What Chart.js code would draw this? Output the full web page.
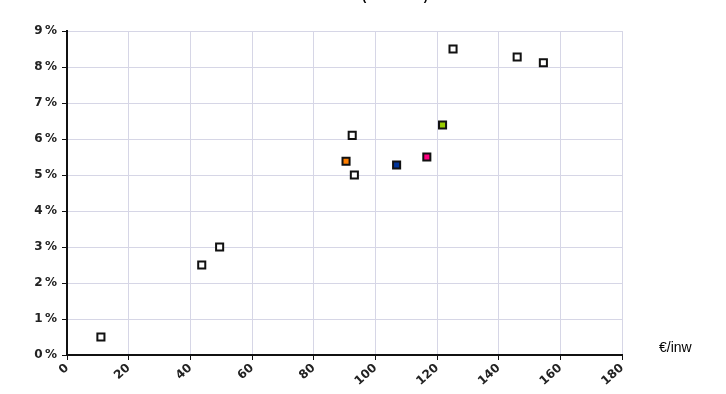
<!DOCTYPE html>
<html>
<head>
<meta charset="utf-8">
<script src="https://cdn.jsdelivr.net/npm/chart.js@4"></script>
<style>
  html, body { margin: 0; padding: 0; background: #fff; }
  #wrap { width: 726px; height: 394px; }
</style>
</head>
<body>
<div id="wrap"><canvas id="chartCanvas" width="726" height="394"></canvas></div>
<script>
// values
var spendPerInhabitant = [11, 43.7, 49.5, 92.5, 93.2, 90.5, 106.9, 116.7, 121.8, 125.2, 146, 154.5];
var sharePercent       = [0.5, 2.5, 3.0, 6.1, 5.0, 5.38, 5.28, 5.5, 6.39, 8.5, 8.28, 8.12];
var pointColors = ["#ffffff", "#ffffff", "#ffffff", "#ffffff", "#ffffff",
                   "#ff7f00", "#003399", "#ff0080", "#99cc00",
                   "#ffffff", "#ffffff", "#ffffff"];
var titleText = "(2000-2008)";
var xUnit = "€/inw";

var points = [];
for (var i = 0; i < spendPerInhabitant.length; i++) {
    points.push({ x: spendPerInhabitant[i], y: sharePercent[i] });
}

// title is cut off at the top edge; unit label sits right of the x axis
var extraText = {
    id: "extraText",
    afterDraw: function (chart) {
        var ctx = chart.ctx;
        ctx.save();
        ctx.fillStyle = "#000";
        ctx.font = "bold 12px 'Liberation Sans', Arial";
        ctx.textAlign = "center";
        ctx.textBaseline = "alphabetic";
        ctx.fillText(titleText, 395, 0);
        ctx.font = "14px 'Liberation Sans', Arial";
        ctx.textAlign = "left";
        ctx.textBaseline = "middle";
        ctx.fillText(xUnit, 659, 348);
        ctx.restore();
    }
};

var tickFont = { family: "'DejaVu Sans', Verdana", size: 12, weight: "bold" };

new Chart(document.getElementById("chartCanvas").getContext("2d"), {
    type: "scatter",
    data: {
        datasets: [{
            data: points,
            pointStyle: "rect",
            pointRadius: 5,
            pointHoverRadius: 5,
            pointBorderWidth: 2,
            pointBorderColor: "#111",
            pointBackgroundColor: pointColors
        }]
    },
    options: {
        responsive: false,
        animation: false,
        layout: { padding: { top: 31, right: 104, bottom: 0, left: 0 } },
        plugins: {
            legend: { display: false },
            tooltip: { enabled: false }
        },
        scales: {
            x: {
                type: "linear",
                min: 0,
                max: 180,
                afterFit: function (scale) { scale.height = 39; },
                ticks: {
                    stepSize: 20,
                    minRotation: 42,
                    maxRotation: 42,
                    color: "#222",
                    font: tickFont,
                    padding: 1
                },
                grid: { color: "#d6d6e6", lineWidth: 1, tickLength: 5, tickColor: "#111" },
                border: { color: "#111", width: 2 }
            },
            y: {
                min: 0,
                max: 9,
                afterFit: function (scale) { scale.width = 67; },
                ticks: {
                    stepSize: 1,
                    color: "#222",
                    font: tickFont,
                    padding: 5,
                    callback: function (v) { return v + "\u2009%"; }
                },
                grid: { color: "#d6d6e6", lineWidth: 1, tickLength: 5, tickColor: "#111" },
                border: { color: "#111", width: 2 }
            }
        }
    },
    plugins: [extraText]
});
</script>
</body>
</html>
